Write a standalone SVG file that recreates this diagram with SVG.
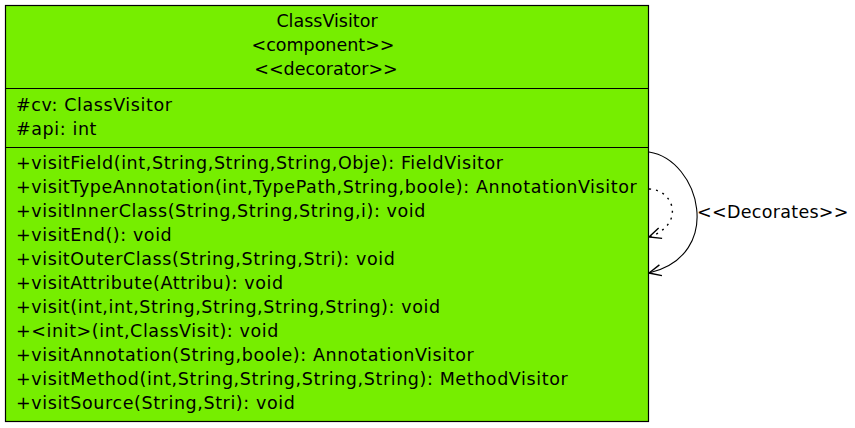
<svg xmlns="http://www.w3.org/2000/svg" width="855" height="428" viewBox="0 0 855 428">
  <style>
    text { font-family: "DejaVu Sans", sans-serif; font-size: 17.5px; fill: #000; }
    .m { letter-spacing: 0.6px; }
    .c { text-anchor: middle; }
    .box { fill: #76ee00; stroke: #000; stroke-width: 1.2; }
    .div { stroke: #000; stroke-width: 1.2; }
    .edge { fill: none; stroke: #000; stroke-width: 1.1; }
    .dot { stroke-width: 1.4; stroke-dasharray: 2 5; }
  </style>
  <defs>
    <marker id="open" viewBox="0 0 14 14" refX="13" refY="7" markerWidth="14" markerHeight="14" markerUnits="userSpaceOnUse" orient="auto">
      <path d="M1,1.5 L13,7 L1,12.5" fill="none" stroke="#000" stroke-width="1.4" stroke-dasharray="none"/>
    </marker>
  </defs>

  <!-- class node -->
  <g id="ClassVisitor">
    <rect class="box" x="5.5" y="5.5" width="643" height="416"/>
    <line class="div" x1="5.5" y1="88.5" x2="648.5" y2="88.5"/>
    <line class="div" x1="5.5" y1="147.5" x2="648.5" y2="147.5"/>
    <text class="c" x="327" y="27">ClassVisitor</text>
    <text class="c" x="323" y="51">&lt;component&gt;&gt;</text>
    <text class="c" x="326" y="75">&lt;&lt;decorator&gt;&gt;</text>
    <g class="m">
      <text x="16" y="111">#cv: ClassVisitor</text>
      <text x="16" y="135">#api: int</text>
      <text x="16" y="169">+visitField(int,String,String,String,Obje): FieldVisitor</text>
      <text x="16" y="193">+visitTypeAnnotation(int,TypePath,String,boole): AnnotationVisitor</text>
      <text x="16" y="217">+visitInnerClass(String,String,String,i): void</text>
      <text x="16" y="241">+visitEnd(): void</text>
      <text x="16" y="265">+visitOuterClass(String,String,Stri): void</text>
      <text x="16" y="289">+visitAttribute(Attribu): void</text>
      <text x="16" y="313">+visit(int,int,String,String,String,String): void</text>
      <text x="16" y="337">+&lt;init&gt;(int,ClassVisit): void</text>
      <text x="16" y="361">+visitAnnotation(String,boole): AnnotationVisitor</text>
      <text x="16" y="385">+visitMethod(int,String,String,String,String): MethodVisitor</text>
      <text x="16" y="409">+visitSource(String,Stri): void</text>
    </g>
  </g>

  <!-- self associations -->
  <g id="connectors">
    <path class="edge" d="M649,152 C700,160 725,255 649,273" marker-end="url(#open)"/>
    <path class="edge dot" d="M649,189 C675,190 685,225 649,237" marker-end="url(#open)"/>
    <text x="697" y="218" style="letter-spacing:0.3px">&lt;&lt;Decorates&gt;&gt;</text>
  </g>
</svg>
